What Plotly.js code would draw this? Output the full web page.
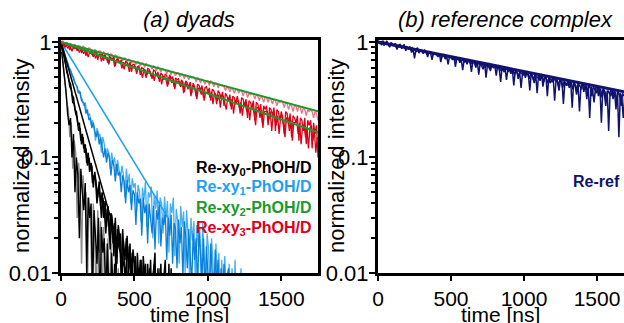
<!DOCTYPE html>
<html>
<head>
<meta charset="utf-8">
<script src="https://cdn.plot.ly/plotly-3.0.1.min.js"></script>
<style>html,body{margin:0;padding:0;background:#fff;}#chart{width:624px;height:323px;}</style>
</head>
<body>
<div id="chart"></div>
<script>
// ---------- data ----------
const tStep = 10; // ns between samples

// panel (a): Re-xy3 (red) traces
const redDark = [ // t = 0, 10, 20 ...
1.00,0.96,0.97,0.90,0.95,0.93,0.85,0.94,0.91,0.88,
0.92,0.84,0.89,0.90,0.80,0.87,0.86,0.76,0.85,0.83,
0.79,0.84,0.74,0.81,0.82,0.70,0.79,0.76,0.78,0.69,
0.77,0.72,0.66,0.75,0.73,0.69,0.74,0.62,0.71,0.70,
0.66,0.70,0.63,0.58,0.68,0.66,0.60,0.67,0.55,0.64,
0.64,0.57,0.61,0.62,0.52,0.60,0.59,0.55,0.49,0.59,
0.58,0.54,0.48,0.57,0.56,0.51,0.55,0.45,0.54,0.52,
0.47,0.53,0.51,0.43,0.52,0.48,0.50,0.41,0.49,0.47,
0.48,0.42,0.47,0.45,0.37,0.46,0.44,0.40,0.45,0.36,
0.44,0.41,0.34,0.43,0.42,0.38,0.42,0.33,0.40,0.41,
0.37,0.40,0.31,0.39,0.38,0.35,0.29,0.38,0.36,0.33,
0.37,0.28,0.36,0.34,0.31,0.35,0.26,0.34,0.33,0.29,
0.34,0.30,0.24,0.33,0.32,0.28,0.32,0.22,0.31,0.30,
0.27,0.31,0.21,0.30,0.29,0.25,0.29,0.20,0.28,0.26,
0.28,0.19,0.27,0.26,0.23,0.27,0.17,0.26,0.25,0.21,
0.25,0.22,0.16,0.25,0.24,0.19,0.24,0.15,0.23,0.22,
0.20,0.23,0.14,0.22,0.21,0.17,0.22,0.13,0.21,0.19,
0.21,0.12,0.20,0.16,0.19,0.10];
const redDark2 = [ // t = 5, 15, 25 ...
0.98,0.94,0.91,0.95,0.88,0.92,0.90,0.83,0.91,0.89,
0.87,0.90,0.81,0.86,0.84,0.79,0.85,0.82,0.74,0.82,
0.80,0.77,0.81,0.72,0.78,0.76,0.79,0.68,0.75,0.77,
0.72,0.74,0.64,0.72,0.70,0.73,0.61,0.69,0.71,0.66,
0.67,0.59,0.66,0.65,0.62,0.66,0.55,0.63,0.62,0.60,
0.61,0.53,0.60,0.59,0.56,0.49,0.58,0.57,0.52,0.56,
0.55,0.50,0.54,0.46,0.53,0.52,0.48,0.52,0.43,0.50,
0.50,0.47,0.41,0.49,0.48,0.44,0.48,0.39,0.46,0.45,
0.45,0.41,0.45,0.36,0.44,0.43,0.39,0.43,0.34,0.42,
0.41,0.38,0.32,0.40,0.39,0.35,0.39,0.31,0.37,0.36,
0.37,0.33,0.37,0.29,0.36,0.35,0.31,0.35,0.27,0.34,
0.34,0.30,0.26,0.33,0.32,0.28,0.32,0.24,0.31,0.30,
0.31,0.27,0.30,0.23,0.30,0.29,0.25,0.29,0.21,0.28,
0.28,0.24,0.19,0.27,0.27,0.22,0.26,0.18,0.25,0.25,
0.25,0.21,0.25,0.17,0.24,0.23,0.19,0.23,0.16,0.22,
0.23,0.19,0.15,0.22,0.22,0.17,0.21,0.14,0.20,0.20,
0.21,0.16,0.20,0.13,0.19,0.19,0.15,0.18,0.12,0.18,
0.19,0.14,0.17,0.11,0.15];
const redLight = [ // t = 0, 10, 20 ...
1.00,1.02,0.97,0.95,1.00,0.93,0.97,0.96,0.90,0.95,
0.94,0.89,0.93,0.92,0.86,0.92,0.90,0.88,0.84,0.89,
0.87,0.85,0.81,0.86,0.84,0.79,0.84,0.83,0.77,0.82,
0.80,0.78,0.80,0.74,0.79,0.77,0.72,0.77,0.76,0.71,
0.74,0.73,0.69,0.73,0.72,0.66,0.71,0.70,0.65,0.69,
0.68,0.64,0.68,0.67,0.62,0.66,0.65,0.60,0.65,0.63,
0.63,0.62,0.58,0.62,0.61,0.56,0.61,0.59,0.55,0.59,
0.58,0.57,0.53,0.57,0.56,0.52,0.56,0.54,0.51,0.54,
0.54,0.50,0.53,0.52,0.48,0.52,0.51,0.47,0.51,0.49,
0.50,0.49,0.45,0.49,0.48,0.44,0.48,0.46,0.43,0.46,
0.46,0.42,0.46,0.45,0.41,0.44,0.44,0.40,0.43,0.42,
0.42,0.41,0.38,0.41,0.40,0.37,0.40,0.39,0.36,0.39,
0.39,0.36,0.38,0.38,0.34,0.37,0.37,0.33,0.36,0.35,
0.36,0.35,0.32,0.35,0.34,0.31,0.34,0.33,0.30,0.33,
0.33,0.30,0.33,0.32,0.29,0.32,0.31,0.28,0.31,0.30,
0.31,0.30,0.27,0.30,0.29,0.26,0.29,0.28,0.25,0.28,
0.28,0.25,0.28,0.27,0.24,0.27,0.26,0.23,0.26,0.25,
0.26,0.25,0.22,0.25,0.24,0.21];

// green fit curves
const greenT = [0,250,500,750,1000,1250,1500,1750];
const greenUpper = [1.0,0.82,0.674,0.553,0.454,0.373,0.306,0.251];
const greenLower = [1.0,0.774,0.598,0.463,0.358,0.277,0.214,0.165];

// Re-xy1 (blue)
const blueDark = [ // t = 0, 10 ...
1.00,0.91,0.82,0.76,0.68,0.64,0.57,0.55,0.49,0.46,
0.43,0.41,0.36,0.37,0.31,0.30,0.29,0.24,0.26,0.21,
0.22,0.18,0.20,0.17,0.15,0.17,0.13,0.15,0.12,0.10,
0.12,0.09,0.11,0.10,0.07,0.095,0.085,0.062,0.088,0.07,
0.075,0.05,0.07,0.062,0.04,0.064,0.05,0.058,0.035,0.052,
0.048,0.026,0.05,0.04,0.044,0.021,0.045,0.033,0.039,0.018,
0.04,0.03,0.022,0.038,0.016,0.035,0.029,0.041,0.017,0.03,
0.026,0.034,0.013,0.03,0.021,0.032,0.012,0.027,0.024,0.011,
0.029,0.018,0.025,0.009,0.028,0.02,0.011,0.024,0.016,0.008,
0.022,0.013,0.02,0.007,0.024,0.014,0.009,0.02,0.006,0.017,
0.012,0.006,0.018,0.009,0.005,0.016,0.008,0.013,0.004,0.011,
0.007,0.012,0.004,0.009,0.011,0.004,0.007,0.01,0.003,0.008,
0.01,0.004,0.006,0.009,0.003,0.007,0.004,0.008,0.003,0.005,0.003];
const blueLight = [ // t = 5, 15 ...
0.96,0.86,0.80,0.71,0.67,0.60,0.58,0.51,0.50,0.44,
0.42,0.37,0.38,0.33,0.32,0.28,0.30,0.25,0.23,0.24,
0.19,0.21,0.18,0.14,0.18,0.15,0.16,0.11,0.15,0.13,
0.10,0.12,0.11,0.08,0.11,0.09,0.10,0.07,0.095,0.08,
0.065,0.085,0.07,0.045,0.08,0.06,0.072,0.04,0.066,0.055,
0.06,0.034,0.058,0.05,0.028,0.055,0.043,0.062,0.025,0.05,
0.045,0.056,0.02,0.048,0.036,0.052,0.018,0.045,0.04,0.022,
0.046,0.03,0.042,0.015,0.04,0.033,0.045,0.014,0.036,0.028,
0.012,0.038,0.025,0.034,0.01,0.035,0.022,0.009,0.03,0.019,
0.028,0.008,0.026,0.017,0.024,0.007,0.027,0.014,0.006,0.022,
0.016,0.006,0.02,0.012,0.005,0.018,0.008,0.015,0.005,0.013,
0.004,0.014,0.009,0.004,0.012,0.006,0.011,0.003,0.013,0.005,
0.009,0.003,0.011,0.004,0.003];
const blueFitT = [0,250,500,730];
const blueFit = [1.0,0.30,0.091,0.030];

// Re-xy0 (black)
const blackSlow = [ // t = 0, 10 ...
1.00,0.84,0.79,0.64,0.55,0.50,0.41,0.39,0.30,0.29,
0.24,0.22,0.17,0.18,0.13,0.15,0.11,0.12,0.085,0.10,
0.08,0.085,0.055,0.075,0.06,0.045,0.062,0.038,0.05,0.03,
0.042,0.025,0.038,0.02,0.033,0.028,0.014,0.03,0.012,0.026,
0.02,0.009,0.024,0.015,0.007,0.021,0.011,0.018,0.006,0.016,
0.012,0.005,0.015,0.008,0.013,0.004,0.014,0.009,0.005,0.012,
0.006,0.013,0.004,0.010,0.015,0.003,0.011,0.005,0.012,0.003,
0.009,0.013,0.003,0.008,0.004,0.011,0.003,0.010,0.004,0.008,
0.003,0.009,0.003,0.007,0.003,0.006];
const blackSlow2 = [ // t = 5, 15 ...
0.93,0.80,0.70,0.62,0.52,0.46,0.43,0.35,0.33,0.26,
0.25,0.19,0.20,0.14,0.16,0.12,0.13,0.09,0.11,0.075,
0.09,0.06,0.07,0.065,0.04,0.055,0.048,0.03,0.045,0.035,
0.022,0.036,0.03,0.016,0.032,0.018,0.027,0.01,0.024,0.017,
0.022,0.008,0.019,0.013,0.02,0.005,0.017,0.01,0.015,0.004,
0.014,0.007,0.011,0.003,0.013,0.006,0.01,0.012,0.003,0.009,
0.011,0.003,0.009,0.012,0.004,0.008,0.003,0.011,0.005,0.007,
0.003,0.010,0.004,0.012,0.003,0.007,0.009,0.003,0.006,0.003,
0.008,0.003,0.006,0.003,0.005];
const greyFast = [ // t = 0, 10 ...
1.0,0.70,0.55,0.42,0.30,0.26,0.15,0.20,0.08,0.14,
0.11,0.03,0.09,0.06,0.012,0.07,0.04,0.05,0.007,0.045,
0.03,0.009,0.04,0.02,0.005,0.035,0.015,0.028,0.004,0.025,
0.012,0.006,0.02,0.004,0.018,0.008,0.003,0.014,0.005,0.011,0.003];
const blackFast = [ // t = 5, 15 ...
0.82,0.63,0.45,0.36,0.24,0.19,0.22,0.10,0.16,0.05,
0.10,0.07,0.02,0.08,0.05,0.035,0.06,0.01,0.045,0.03,
0.04,0.006,0.035,0.02,0.012,0.03,0.004,0.025,0.015,0.02,
0.005,0.018,0.01,0.003,0.015,0.006,0.012,0.003,0.009,0.003];
const blackFitT = [0,100,200,300,400,450];
const blackFit = [1.0,0.355,0.126,0.045,0.016,0.0094];

// panel (b): Re-ref (navy)
const navy = [ // t = 0, 10 ...
1.03,0.97,0.99,1.01,0.93,0.98,1.02,0.95,0.90,0.99,
0.96,0.93,0.97,0.86,0.94,0.95,0.89,0.92,0.95,0.84,
0.90,0.87,0.91,0.81,0.88,0.72,0.86,0.89,0.80,0.85,
0.84,0.79,0.85,0.82,0.74,0.83,0.80,0.70,0.81,0.78,
0.79,0.74,0.80,0.67,0.77,0.78,0.71,0.76,0.64,0.75,
0.74,0.70,0.75,0.61,0.72,0.73,0.66,0.71,0.57,0.70,
0.70,0.64,0.71,0.68,0.55,0.69,0.66,0.60,0.68,0.52,
0.66,0.62,0.58,0.67,0.49,0.64,0.65,0.56,0.63,0.60,
0.62,0.51,0.63,0.59,0.45,0.61,0.57,0.60,0.47,0.58,
0.58,0.53,0.59,0.42,0.56,0.57,0.48,0.55,0.40,0.54,
0.55,0.49,0.56,0.52,0.38,0.54,0.50,0.44,0.53,0.36,
0.52,0.46,0.53,0.41,0.50,0.51,0.34,0.49,0.44,0.47,
0.49,0.31,0.48,0.45,0.38,0.47,0.46,0.29,0.45,0.42,
0.46,0.40,0.46,0.27,0.44,0.42,0.35,0.44,0.25,0.41,
0.44,0.37,0.43,0.32,0.42,0.22,0.41,0.38,0.30,0.40,
0.41,0.34,0.41,0.20,0.39,0.36,0.28,0.38,0.17,0.37,
0.39,0.32,0.38,0.26,0.37,0.15,0.36,0.33,0.22,0.35];
const navy2 = [ // t = 5, 15 ...
1.00,0.98,0.94,1.02,0.97,0.95,0.99,0.93,0.97,0.96,
0.94,0.96,0.90,0.93,0.91,0.94,0.88,0.92,0.90,0.91,
0.88,0.90,0.85,0.89,0.86,0.87,0.83,0.86,0.85,0.83,
0.84,0.81,0.83,0.78,0.82,0.80,0.81,0.77,0.80,0.78,
0.78,0.76,0.79,0.73,0.77,0.75,0.72,0.76,0.74,0.73,
0.74,0.71,0.73,0.69,0.72,0.70,0.68,0.71,0.69,0.67,
0.70,0.67,0.69,0.64,0.68,0.66,0.67,0.62,0.66,0.64,
0.66,0.63,0.65,0.60,0.64,0.62,0.58,0.63,0.61,0.60,
0.62,0.59,0.61,0.56,0.60,0.58,0.55,0.59,0.57,0.56,
0.58,0.55,0.57,0.52,0.56,0.54,0.51,0.55,0.53,0.52,
0.55,0.52,0.53,0.48,0.53,0.51,0.47,0.52,0.50,0.49,
0.52,0.49,0.50,0.45,0.50,0.48,0.44,0.49,0.47,0.45,
0.49,0.46,0.47,0.42,0.47,0.45,0.40,0.46,0.44,0.42,
0.46,0.43,0.44,0.39,0.44,0.42,0.37,0.43,0.41,0.39,
0.44,0.40,0.42,0.36,0.42,0.40,0.34,0.41,0.39,0.36,
0.41,0.38,0.39,0.33,0.39,0.37,0.31,0.38,0.36,0.34,
0.39,0.35,0.37,0.30,0.37,0.35,0.28,0.36,0.34];
const navyFitT = [0,500,1000,1500,1690];
const navyFit = [1.0,0.746,0.556,0.414,0.37];

const xTicks = [0,500,1000,1500];
const xTickText = ['0','500','1000','1500'];
const yTicks = [0.01,0.1,1];
const yTickText = ['0.01','0.1','1'];
const legendNames = ['Re-xy<sub>0</sub>-PhOH/D','Re-xy<sub>1</sub>-PhOH/D','Re-xy<sub>2</sub>-PhOH/D','Re-xy<sub>3</sub>-PhOH/D'];
const refName = 'Re-ref';
const panelTitles = ['(a) dyads','(b) reference complex'];
const xTitle = 'time [ns]';
const yTitle = 'normalized intensity';

// ---------- build ----------
function times(n, start){ const a=[]; for(let i=0;i<n;i++) a.push(start + i*tStep); return a; }
function line(x, y, color, width, xa, ya){
  return {x:x, y:y, type:'scatter', mode:'lines', line:{color:color, width:width},
          xaxis:xa||'x', yaxis:ya||'y', hoverinfo:'skip', showlegend:false};
}
const C = {black:'#000000', grey:'#8c8c8c', blueL:'#46aff4', blueD:'#0a7fd8', blueFit:'#1e9ff2',
           green:'#1a9a2a', redD:'#dc0018', redL:'#ee7282', navy:'#10126e'};

const traces = [
  line(times(blueLight.length,5), blueLight, C.blueL, 1.3),
  line(times(blueDark.length,0), blueDark, C.blueD, 1.3),
  line(blueFitT, blueFit, C.blueFit, 1.5),
  line(times(greyFast.length,0), greyFast, C.grey, 1.4),
  line(times(blackFast.length,5), blackFast, C.black, 1.4),
  line(times(blackSlow.length,0), blackSlow, C.black, 1.5),
  line(times(blackSlow2.length,5), blackSlow2, C.black, 1.5),
  line(blackFitT, blackFit, C.black, 1.5),
  line(times(redLight.length,0), redLight, C.redL, 1.3),
  line(times(redDark2.length,5), redDark2, C.redD, 1.3),
  line(times(redDark.length,0), redDark, C.redD, 1.3),
  line(greenT, greenUpper, C.green, 2),
  line(greenT, greenLower, C.green, 2),
  line(times(navy.length,0), navy, C.navy, 1.5, 'x2', 'y2'),
  line(times(navy2.length,5), navy2, C.navy, 1.5, 'x2', 'y2'),
  line(navyFitT, navyFit, C.navy, 3, 'x2', 'y2')
];

const W=624, H=323;
const FAM = '"Liberation Sans", Arial, sans-serif';
const font = {family:FAM, color:'#000', size:22};
const tickFont = {family:FAM, color:'#000', size:21};
function px(x){ return x/W; } function py(y){ return 1 - y/H; }

const axX = {showline:true, linewidth:3, linecolor:'#000', mirror:true, ticks:'outside', ticklen:5, tickwidth:2,
             tickcolor:'#000', tickvals:xTicks, ticktext:xTickText, tickfont:tickFont, showgrid:false, zeroline:false,
             fixedrange:true};
const axY = {type:'log', showline:true, linewidth:3, linecolor:'#000', ticks:'outside', ticklen:6, tickwidth:2,
             tickcolor:'#000', tickvals:yTicks, ticktext:yTickText, tickfont:font, showgrid:false, zeroline:false,
             range:[-2, 0.017], domain:[py(273), py(40)], ticklabelstandoff:-4,
             minor:{ticks:'outside', ticklen:4, tickwidth:2, tickcolor:'#000', dtick:'D1', showgrid:false}};

function ann(text, x, y, extra){
  return Object.assign({text:text, x:px(x), y:py(y), xref:'paper', yref:'paper', showarrow:false,
                        xanchor:'center', yanchor:'middle', font:font}, extra||{});
}
const legFont = c => ({family:FAM, size:16, color:c});

const layout = {
  width:W, height:H, margin:{l:0,r:0,t:0,b:0}, paper_bgcolor:'#fff', plot_bgcolor:'#fff',
  font:font, showlegend:false,
  xaxis: Object.assign({}, axX, {domain:[px(61), px(318)], range:[0,1750], anchor:'y'}),
  yaxis: Object.assign({}, axY, {mirror:true, anchor:'x'}),
  xaxis2: Object.assign({}, axX, {domain:[px(378), 1], range:[0,1685], anchor:'y2'}),
  yaxis2: Object.assign({}, axY, {mirror:false, anchor:'x2'}),
  annotations: [
    ann(panelTitles[0], 189, 19, {font:Object.assign({},font,{style:'italic'})}),
    ann(panelTitles[1], 505, 19, {font:Object.assign({},font,{style:'italic'})}),
    ann(xTitle, 189, 314, {font:tickFont}),
    ann(xTitle, 500, 314, {font:tickFont}),
    ann(yTitle, 21, 156, {textangle:-90}),
    ann(yTitle, 336, 156, {textangle:-90}),
    ann('<b>'+legendNames[0]+'</b>', 314, 168, {xanchor:'right', font:legFont(C.black)}),
    ann('<b>'+legendNames[1]+'</b>', 314, 188, {xanchor:'right', font:legFont(C.blueFit)}),
    ann('<b>'+legendNames[2]+'</b>', 314, 208, {xanchor:'right', font:legFont(C.green)}),
    ann('<b>'+legendNames[3]+'</b>', 314, 228, {xanchor:'right', font:legFont(C.redD)}),
    ann('<b>'+refName+'</b>', 622, 182, {xanchor:'right', font:legFont(C.navy)})
  ]
};

Plotly.newPlot('chart', traces, layout, {displayModeBar:false, staticPlot:true});
</script>
</body>
</html>
